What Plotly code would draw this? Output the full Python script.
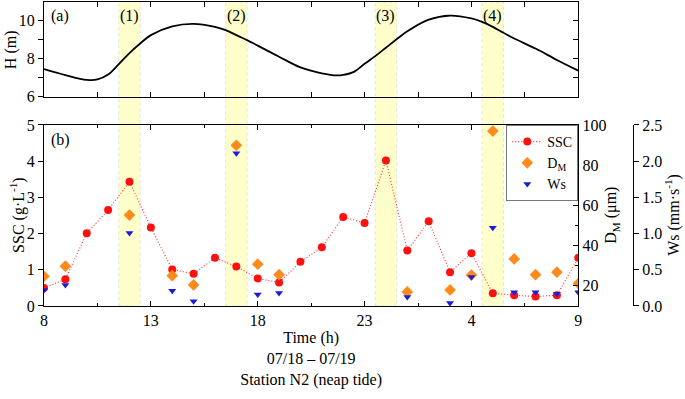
import plotly.graph_objects as go

# ---------------- data ----------------
# Tidal level H (m) vs. time (hours from 0:00 on 07/18)
h_time = [8, 9, 10, 10.5, 11, 11.5, 12, 12.5, 13, 14, 15, 16, 16.5, 17, 17.5, 18, 19, 20,
          21, 21.7, 22, 22.5, 23, 23.5, 24, 24.5, 25, 26, 27, 28, 28.5, 29, 29.5, 30, 31, 32, 33]
h_level = [7.44, 7.13, 6.88, 6.90, 7.16, 7.70, 8.28, 8.78, 9.22, 9.68, 9.81, 9.65, 9.48, 9.22, 8.96,
           8.67, 8.09, 7.53, 7.22, 7.11, 7.14, 7.30, 7.72, 8.12, 8.56, 9.00, 9.42, 10.03, 10.24,
           10.09, 9.91, 9.65, 9.34, 9.04, 8.52, 7.92, 7.36]

# SSC (g/L) hourly
ssc_time = list(range(8, 34))
ssc = [0.50, 0.74, 2.01, 2.65, 3.43, 2.17, 1.01, 0.89, 1.33, 1.09, 0.76, 0.65, 1.22, 1.62,
       2.46, 2.29, 4.02, 1.53, 2.34, 0.93, 1.46, 0.35, 0.30, 0.26, 0.30, 1.33]

# Floc size D_M (um) and settling velocity Ws (mm/s)
dm_time = [8, 9, 12, 14, 15, 17, 18, 19, 25, 27, 28, 29, 30, 31, 32, 33]
dm = [24.8, 29.8, 55.2, 25.1, 20.5, 89.9, 30.8, 25.6, 17.0, 18.0, 25.4, 97.0, 33.4, 25.6, 26.8, 21.2]
ws = [0.22, 0.29, 1.01, 0.21, 0.065, 2.11, 0.16, 0.18, 0.125, 0.04, 0.40, 1.08, 0.19, 0.19, 0.17, 0.19]

# highlighted periods
band_start = [11.5, 16.5, 23.5, 28.5]
band_end = [12.5, 17.5, 24.5, 29.5]
band_labels = ["(1)", "(2)", "(3)", "(4)"]

tick_vals = [8, 13, 18, 23, 28, 33]
tick_text = ["8", "13", "18", "23", "4", "9"]
minor_vals = [10.5, 15.5, 20.5, 25.5, 30.5]

# ---------------- figure ----------------
FONT = "Liberation Serif"
FS = 16
XD = [0.0, 0.9071]
TOP_D = [0.6885, 1.0]
BOT_D = [0.0, 0.5954]

fig = go.Figure()

fig.add_trace(go.Scatter(x=h_time, y=h_level, mode="lines", line=dict(color="black", width=1.8, shape="spline"),
                         xaxis="x", yaxis="y", showlegend=False, hoverinfo="skip"))
# invisible trace to draw inside ticks on the right of panel (a)
fig.add_trace(go.Scatter(x=h_time, y=h_level, mode="lines", opacity=0, line=dict(width=0),
                         xaxis="x", yaxis="y4", showlegend=False, hoverinfo="skip"))

fig.add_trace(go.Scatter(x=ssc_time, y=ssc, mode="lines+markers", name="SSC",
                         line=dict(color="#FF3030", width=1.1, dash="1px,2px"),
                         marker=dict(color="#FF1010", size=8, symbol="circle"),
                         xaxis="x2", yaxis="y2"))
fig.add_trace(go.Scatter(x=dm_time, y=dm, mode="markers", name="D<sub>M</sub>",
                         marker=dict(color="#FF8A1C", size=9, symbol="diamond"),
                         xaxis="x2", yaxis="y3"))
fig.add_trace(go.Scatter(x=dm_time, y=ws, mode="markers", name="Ws",
                         marker=dict(color="#1C1CD8", size=7, symbol="triangle-down"),
                         xaxis="x2", yaxis="y5"))

shapes = []
annotations = []
for s, e, lab in zip(band_start, band_end, band_labels):
    shapes.append(dict(type="rect", xref="x", yref="paper", x0=s, x1=e, y0=0, y1=1,
                       fillcolor="#FFFFCC", line=dict(color="#D8D8C0", width=0.7, dash="dot"),
                       layer="below"))
    annotations.append(dict(x=(s + e) / 2, y=0.955, xref="x", yref="paper", text=lab,
                            yanchor="middle", showarrow=False, font=dict(family=FONT, size=FS, color="black")))

annotations += [
    dict(x=0.008, y=0.955, xref="paper", yref="paper", text="(a)", xanchor="left", yanchor="middle",
         showarrow=False, font=dict(family=FONT, size=FS, color="black")),
    dict(x=0.008, y=0.546, xref="paper", yref="paper", text="(b)", xanchor="left", yanchor="middle",
         showarrow=False, font=dict(family=FONT, size=FS, color="black")),
    dict(x=-0.057, y=0.843, xref="paper", yref="paper", text="H (m)", textangle=-90, showarrow=False,
         xanchor="center", yanchor="middle", font=dict(family=FONT, size=FS, color="black")),
    dict(x=-0.044, y=0.30, xref="paper", yref="paper", text="SSC (g·L<sup>-1</sup>)", textangle=-90,
         xanchor="center", yanchor="middle", showarrow=False, font=dict(family=FONT, size=FS, color="black")),
    dict(x=0.9643, y=0.30, xref="paper", yref="paper", text="D<sub>M</sub> (μm)", textangle=-90,
         xanchor="center", yanchor="middle", showarrow=False, font=dict(family=FONT, size=FS, color="black")),
    dict(x=1.068, y=0.30, xref="paper", yref="paper", text="Ws (mm·s<sup>-1</sup>)", textangle=-90,
         xanchor="center", yanchor="middle", showarrow=False, font=dict(family=FONT, size=FS, color="black")),
]

axis_common = dict(showgrid=False, zeroline=False, showline=True, linecolor="black", linewidth=1,
                   tickcolor="black", automargin=False,
                   tickfont=dict(family=FONT, size=FS, color="black"))

fig.update_layout(
    width=685, height=399,
    margin=dict(l=44, r=52, t=2, b=93, autoexpand=False),
    paper_bgcolor="white", plot_bgcolor="rgba(0,0,0,0)",
    font=dict(family=FONT, size=FS, color="black"),
    xaxis=dict(domain=XD, anchor="y", range=[8, 33], ticks="inside", ticklen=5, mirror="ticks",
               tickvals=[8, 10.5, 13, 15.5, 18, 20.5, 23, 25.5, 28, 30.5, 33], showticklabels=False,
               **axis_common),
    yaxis=dict(domain=TOP_D, anchor="x", range=[6, 10.95], ticks="outside", ticklen=5,
               tickvals=[6, 8, 10], minor=dict(tickvals=[7, 9], ticks="outside", ticklen=5, tickcolor="black"),
               mirror=True, **axis_common),
    yaxis4=dict(overlaying="y", anchor="x", side="right", range=[6, 10.95], ticks="inside", ticklen=5,
                tickvals=[6, 7, 8, 9, 10], showticklabels=False, showgrid=False, zeroline=False,
                showline=False, tickcolor="black", automargin=False),
    xaxis2=dict(domain=XD, anchor="y2", range=[8, 33], ticks="inside", ticklen=5, mirror="ticks",
                tickvals=tick_vals, ticktext=tick_text,
                minor=dict(tickvals=minor_vals, ticks="inside", ticklen=3, tickcolor="black"),
                title=dict(text="Time (h)<br>07/18 – 07/19<br>Station N2 (neap tide)",
                           font=dict(family=FONT, size=FS, color="black"), standoff=0),
                **axis_common),
    yaxis2=dict(domain=BOT_D, anchor="x2", range=[0, 5], tickvals=[0, 1, 2, 3, 4, 5], ticks="outside",
                ticklen=5, **axis_common),
    yaxis3=dict(overlaying="y2", anchor="x2", side="right", range=[10, 100],
                tickvals=[20, 40, 60, 80, 100], ticks="inside", ticklen=5,
                minor=dict(tickvals=[30, 50, 70, 90], ticks="inside", ticklen=3, tickcolor="black"),
                **axis_common),
    yaxis5=dict(overlaying="y2", anchor="free", position=1.0, side="right", range=[0, 2.5],
                tickvals=[0, 0.5, 1.0, 1.5, 2.0, 2.5], tickformat=".1f", ticks="outside", ticklen=5,
                **axis_common),
    legend=dict(x=XD[1], y=BOT_D[1], xanchor="right", yanchor="top", bgcolor="white",
                bordercolor="#777777", borderwidth=1, font=dict(family=FONT, size=14, color="black"),
                itemwidth=30, tracegroupgap=0),
    shapes=shapes,
    annotations=annotations,
)

fig.write_html("out.html", config={"displayModeBar": False},
               post_script="document.body.style.margin='0';document.body.style.overflow='hidden';")
